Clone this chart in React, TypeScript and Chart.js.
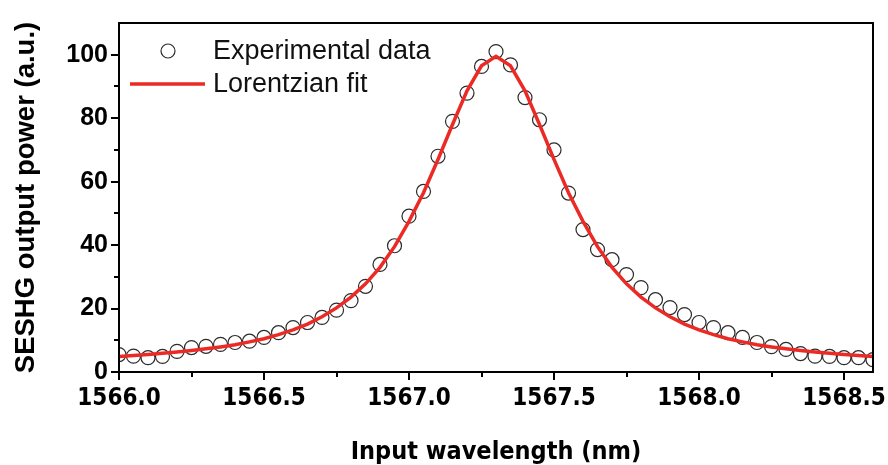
import React, { useEffect, useRef } from "react";
import { Chart, registerables } from "chart.js";

Chart.register(...registerables);

// ---- data ----
const WAVELENGTH_NM = [
  1566.0, 1566.05, 1566.1, 1566.15, 1566.2, 1566.25, 1566.3, 1566.35, 1566.4, 1566.45,
  1566.5, 1566.55, 1566.6, 1566.65, 1566.7, 1566.75, 1566.8, 1566.85, 1566.9, 1566.95,
  1567.0, 1567.05, 1567.1, 1567.15, 1567.2, 1567.25, 1567.3, 1567.35, 1567.4, 1567.45,
  1567.5, 1567.55, 1567.6, 1567.65, 1567.7, 1567.75, 1567.8, 1567.85, 1567.9, 1567.95,
  1568.0, 1568.05, 1568.1, 1568.15, 1568.2, 1568.25, 1568.3, 1568.35, 1568.4, 1568.45,
  1568.5, 1568.55, 1568.6,
];

const EXPERIMENTAL_DATA = [
  5.5, 5.0, 4.5, 4.9, 6.5, 7.7, 8.1, 8.7, 9.3, 9.7,
  10.9, 12.4, 14.0, 15.6, 17.2, 19.5, 22.5, 27.0, 33.9, 39.8,
  49.1, 56.9, 68.0, 79.0, 87.9, 96.3, 101.0, 96.8, 86.5, 79.5,
  70.0, 56.4, 44.9, 38.6, 35.4, 30.7, 26.6, 22.8, 20.3, 18.1,
  15.6, 14.0, 12.4, 10.9, 9.3, 8.0, 7.1, 5.8, 5.0, 4.9,
  4.5, 4.5, 3.9,
];

const LORENTZIAN_FIT = [
  4.9, 5.2, 5.5, 5.9, 6.3, 6.8, 7.3, 7.9, 8.6, 9.5,
  10.5, 11.8, 13.3, 15.1, 17.4, 20.2, 23.6, 27.8, 33.0, 39.5,
  47.5, 56.5, 67.0, 78.0, 88.6, 96.5, 99.5, 96.5, 88.6, 78.0,
  67.0, 56.5, 47.5, 39.5, 33.0, 27.8, 23.6, 20.2, 17.4, 15.1,
  13.3, 11.8, 10.5, 9.5, 8.6, 7.9, 7.3, 6.8, 6.3, 5.9,
  5.5, 5.2, 4.9,
];

const X_MAJOR_TICKS = [1566.0, 1566.5, 1567.0, 1567.5, 1568.0, 1568.5];
const X_MINOR_TICKS = [1566.25, 1566.75, 1567.25, 1567.75, 1568.25];
const Y_MAJOR_TICKS = [0, 20, 40, 60, 80, 100];
const Y_MINOR_TICKS = [10, 30, 50, 70, 90];
const X_MIN = 1566.0;
const X_MAX = 1568.6;
const Y_MIN = 0;
const Y_MAX = 110;

const SERIES_NAMES = ["Experimental data", "Lorentzian fit"];
const X_TITLE = "Input wavelength (nm)";
const Y_TITLE = "SESHG output power (a.u.)";

const FIT_COLOR = "#ec2a25";
const POINT_COLOR = "#2b2b2b";
const SANS = "'Liberation Sans', Arial, sans-serif";
const NARROW = "'DejaVu Sans Condensed', 'Liberation Sans', sans-serif";

const frameAndTicks = {
  id: "frameAndTicks",
  afterDatasetsDraw(chart: any) {
    const { ctx, chartArea, scales } = chart;
    const { left, right, top, bottom } = chartArea;
    const x = scales.x;
    const y = scales.y;
    ctx.save();
    ctx.strokeStyle = "#000";
    ctx.lineWidth = 2;
    ctx.strokeRect(left, top, right - left, bottom - top);
    ctx.beginPath();
    X_MAJOR_TICKS.forEach((v) => {
      const p = Math.round(x.getPixelForValue(v));
      ctx.moveTo(p, bottom);
      ctx.lineTo(p, bottom + 8);
    });
    X_MINOR_TICKS.forEach((v) => {
      const p = Math.round(x.getPixelForValue(v));
      ctx.moveTo(p, bottom);
      ctx.lineTo(p, bottom + 5);
    });
    Y_MAJOR_TICKS.forEach((v) => {
      const p = Math.round(y.getPixelForValue(v));
      ctx.moveTo(left, p);
      ctx.lineTo(left - 8, p);
    });
    Y_MINOR_TICKS.forEach((v) => {
      const p = Math.round(y.getPixelForValue(v));
      ctx.moveTo(left, p);
      ctx.lineTo(left - 5, p);
    });
    ctx.stroke();

    // legend inside the plot area
    ctx.beginPath();
    ctx.lineWidth = 1.2;
    ctx.strokeStyle = POINT_COLOR;
    ctx.arc(left + 49, top + 28, 7, 0, Math.PI * 2);
    ctx.stroke();
    ctx.beginPath();
    ctx.strokeStyle = FIT_COLOR;
    ctx.lineWidth = 3.5;
    ctx.moveTo(left + 11, top + 61);
    ctx.lineTo(left + 86, top + 61);
    ctx.stroke();
    ctx.fillStyle = "#111";
    ctx.font = "27px " + SANS;
    ctx.textBaseline = "alphabetic";
    ctx.textAlign = "left";
    ctx.fillText(SERIES_NAMES[0], left + 94, top + 36);
    ctx.fillText(SERIES_NAMES[1], left + 94, top + 69);
    ctx.restore();
  },
};

export default function App() {
  const ref = useRef<HTMLCanvasElement | null>(null);

  useEffect(() => {
    document.body.style.margin = "0";
    const canvas = ref.current;
    if (!canvas) return;
    const chart = new Chart(canvas, {
      type: "line",
      data: {
        datasets: [
          {
            label: SERIES_NAMES[1],
            data: WAVELENGTH_NM.map((w, i) => ({ x: w, y: LORENTZIAN_FIT[i] })),
            borderColor: FIT_COLOR,
            backgroundColor: FIT_COLOR,
            borderWidth: 3.5,
            pointRadius: 0,
            tension: 0,
            order: 0,
          },
          {
            label: SERIES_NAMES[0],
            data: WAVELENGTH_NM.map((w, i) => ({ x: w, y: EXPERIMENTAL_DATA[i] })),
            showLine: false,
            pointStyle: "circle",
            pointRadius: 7,
            pointBorderWidth: 1.2,
            pointBorderColor: POINT_COLOR,
            pointBackgroundColor: "rgba(0,0,0,0)",
            borderColor: POINT_COLOR,
            backgroundColor: "rgba(0,0,0,0)",
            clip: 0,
            order: 1,
          } as any,
        ],
      },
      options: {
        responsive: false,
        animation: false,
        devicePixelRatio: 1,
        layout: { padding: { left: 0, right: 15, top: 23, bottom: 0 } },
        plugins: {
          legend: { display: false },
          tooltip: { enabled: false },
        },
        scales: {
          x: {
            type: "linear",
            min: X_MIN,
            max: X_MAX,
            afterBuildTicks: (scale: any) => {
              scale.ticks = X_MAJOR_TICKS.map((v) => ({ value: v }));
            },
            afterFit: (scale: any) => {
              scale.height = 93;
              scale.paddingLeft = 0;
              scale.paddingRight = 0;
            },
            grid: { display: false, drawTicks: false },
            border: { display: false },
            ticks: {
              autoSkip: false,
              maxRotation: 0,
              minRotation: 0,
              padding: 12,
              color: "#000",
              font: { family: NARROW, weight: "bold", size: 24 },
              callback: (v: any) => Number(v).toFixed(1),
            },
            title: {
              display: true,
              text: X_TITLE,
              color: "#000",
              font: { family: NARROW, weight: "bold", size: 25, lineHeight: 1.0 },
              padding: { top: 0, bottom: 0 },
            },
          },
          y: {
            type: "linear",
            min: Y_MIN,
            max: Y_MAX,
            afterBuildTicks: (scale: any) => {
              scale.ticks = Y_MAJOR_TICKS.map((v) => ({ value: v }));
            },
            afterFit: (scale: any) => {
              scale.width = 119;
              scale.paddingTop = 0;
              scale.paddingBottom = 0;
            },
            grid: { display: false, drawTicks: false },
            border: { display: false },
            ticks: {
              autoSkip: false,
              padding: 11,
              color: "#000",
              font: { family: SANS, weight: "bold", size: 25 },
              callback: (v: any) => String(v),
            },
            title: {
              display: true,
              text: Y_TITLE,
              color: "#000",
              font: { family: SANS, weight: "bold", size: 27.5, lineHeight: 1.2 },
              padding: { top: 10, bottom: 0 },
            },
          },
        },
      },
      plugins: [frameAndTicks],
    });
    return () => chart.destroy();
  }, []);

  return (
    <div style={{ position: "absolute", left: 0, top: 0, width: 888, height: 465, background: "#fff" }}>
      <canvas ref={ref} width={888} height={465} style={{ display: "block" }} />
    </div>
  );
}
